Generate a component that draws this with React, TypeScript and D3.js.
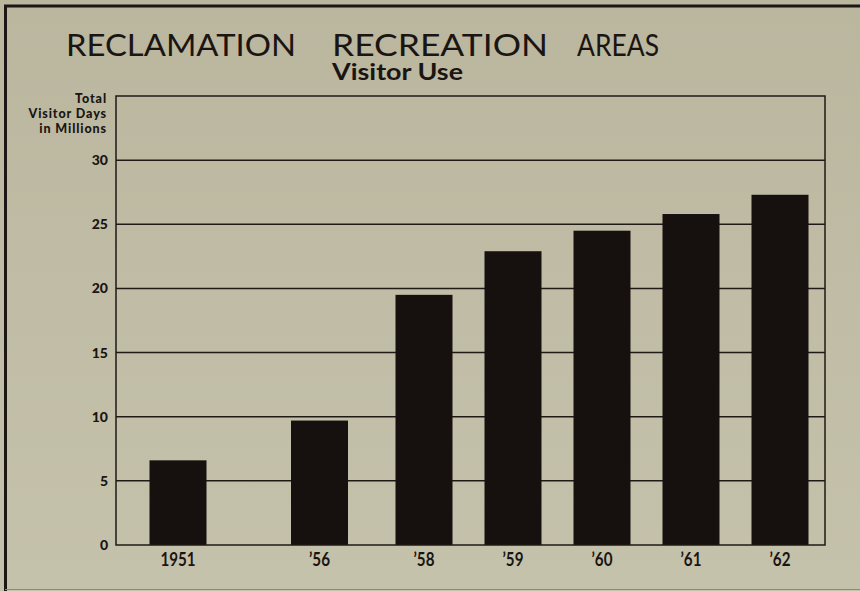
import React from "react";
import * as d3 from "d3";

const years = [1951, 1956, 1958, 1959, 1960, 1961, 1962];
const yearLabels = ["1951", "\u201956", "\u201958", "\u201959", "\u201960", "\u201961", "\u201962"];
const visitorDays = [6.6, 9.7, 19.5, 22.9, 24.5, 25.8, 27.3];
const yTicks = [0, 5, 10, 15, 20, 25, 30];
const yTitleLines = ["Total", "Visitor Days", "in Millions"];
const titleWords = ["RECLAMATION", "RECREATION", "AREAS"];

const W = 860;
const H = 591;

export default function App() {
  const left = 116, right = 825, top = 96, bottom = 545;
  const y = d3.scaleLinear().domain([0, 35]).range([bottom, top]);
  // polylinear year scale reproducing the chart's compressed gaps
  const x = d3.scaleLinear().domain([1951, 1956, 1958, 1962]).range([178, 319.5, 424, 780]);
  const bw = 57;
  const font = "Lato, 'Open Sans', 'DejaVu Sans', sans-serif";
  const ink = "#1a1512";
  // title word layout (start x, length)
  const titleLayout = [[66, 230], [332, 216], [577, 82]];
  return (
    <div style={{ position: "fixed", left: 0, top: 0, width: W, height: H }}>
      <svg width={W} height={H} style={{ display: "block" }}>
        <defs>
          <linearGradient id="bg" x1="0" y1="0" x2="0" y2="1">
            <stop offset="0" stopColor="#bbb69e" />
            <stop offset="1" stopColor="#c5c2ac" />
          </linearGradient>
        </defs>
        <rect x={0} y={0} width={W} height={H} fill="url(#bg)" />
        {/* outer page border */}
        <line x1={4} x2={W} y1={6} y2={6} stroke="#1c1714" strokeWidth={3} />
        <line x1={5.5} x2={5.5} y1={5} y2={H} stroke="#1c1714" strokeWidth={3} />
        <line x1={5} x2={W} y1={589.5} y2={589.5} stroke="#8d8a7a" strokeWidth={1} />

        {/* titles */}
        {titleWords.map((w, i) => (
          <text key={w} x={titleLayout[i][0]} y={55.5} fontFamily={font} fontWeight={400}
            fontSize={31} fill={ink} textLength={titleLayout[i][1]}
            lengthAdjust="spacingAndGlyphs">{w}</text>
        ))}
        <text x={332} y={80} fontFamily={font} fontWeight={700}
          fontSize={22} fill={ink} textLength={131} lengthAdjust="spacingAndGlyphs">Visitor Use</text>

        {/* y axis title */}
        {yTitleLines.map((t, i) => (
          <text key={t} x={107} y={103 + i * 15} textAnchor="end" fontFamily={font}
            fontWeight={900} fontSize={12.5} letterSpacing={0.9} fill={ink}>{t}</text>
        ))}

        {/* gridlines */}
        {yTicks.filter((t) => t > 0).map((t) => (
          <line key={t} x1={left} x2={right} y1={y(t)} y2={y(t)} stroke="#1f1a16" strokeWidth={1.5} />
        ))}

        {/* bars */}
        {years.map((yr, i) => (
          <rect key={yr} x={x(yr) - bw / 2} y={y(visitorDays[i])} width={bw}
            height={y(0) - y(visitorDays[i])} fill="#16110f" />
        ))}

        {/* frame */}
        <rect x={left} y={top} width={right - left} height={bottom - top} fill="none"
          stroke="#1f1a16" strokeWidth={1.5} />

        {/* y tick labels */}
        {yTicks.map((t) => (
          <text key={t} x={108} y={y(t) + 5} textAnchor="end" fontFamily={font}
            fontWeight={900} fontSize={14} fill={ink}>{t}</text>
        ))}

        {/* x labels */}
        {years.map((yr, i) => (
          <text key={yr} transform={`translate(${x(yr)},566) scale(0.8,1)`} textAnchor="middle"
            fontFamily={font} fontWeight={700} fontSize={19} fill={ink}>{yearLabels[i]}</text>
        ))}
      </svg>
    </div>
  );
}
